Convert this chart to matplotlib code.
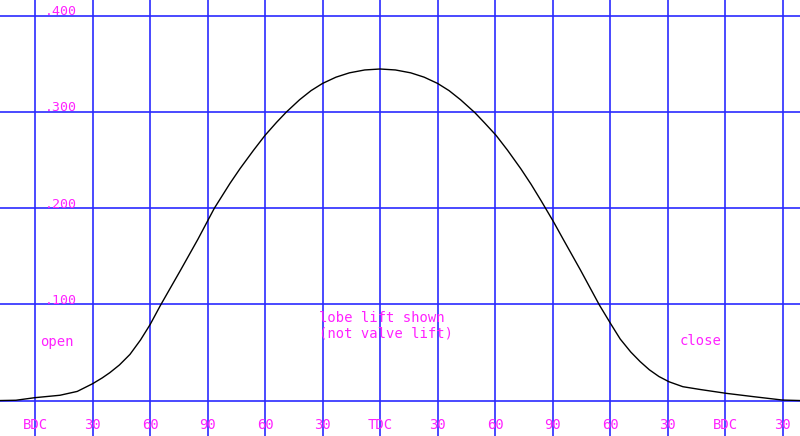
import matplotlib
matplotlib.use("Agg")
import matplotlib.pyplot as plt

# crank angle in degrees relative to TDC, lobe lift
angle = [-198.3, -190, -180, -167, -158, -150, -145, -141, -136, -130.5, -125, -120,
         -114.6, -104, -95, -86.5, -78.3, -73, -66, -60, -54, -49, -42, -36, -30,
         -23, -16, -8, 0,
         8, 16, 23, 30, 36, 42, 49.5, 54.5, 60.5, 66.5, 73.5, 78.8, 84, 90.5, 95.5,
         104.5, 114.4, 120.3, 125.3, 130.8, 135.7, 140.5, 145.5, 150.8, 158, 167,
         180.6, 195, 210, 219.1]
lift = [0, 0.3, 3, 5.5, 9.5, 17.5, 23.5, 29, 37, 48, 63, 79,
        99, 136, 168, 200, 226, 241.5, 260.5, 276, 289.5, 300, 313, 322.5, 330,
        336.5, 341, 344, 345,
        344, 341, 336.5, 330, 322.5, 313, 299.5, 289, 276, 260.5, 241, 225, 208, 186, 168,
        136, 99.5, 80, 64, 50.5, 40.5, 32, 25, 19.5, 14.4, 11.5,
        7.5, 4, 0.5, 0]

grid_x = [-180, -150, -120, -90, -60, -30, 0, 30, 60, 90, 120, 150, 180, 210]
x_labels = ["BDC", "30", "60", "90", "60", "30", "TDC", "30", "60", "90", "60", "30", "BDC", "30"]
grid_y = [0, 100, 200, 300, 400]
y_labels = [".100", ".200", ".300", ".400"]

blue = "#2a2aff"
magenta = "#ff22ff"
font = "DejaVu Sans Mono"

fig = plt.figure(figsize=(8, 4.36), dpi=100)
ax = fig.add_axes([0, 0, 1, 1])
ax.set_xlim(-198.3, 219.1)
ax.set_ylim(-36.9, 416.8)
ax.axis("off")

for gx in grid_x:
    ax.axvline(gx, color=blue, lw=1.2, zorder=1)
for gy in grid_y:
    ax.axhline(gy, color=blue, lw=1.2, zorder=1)

ax.plot(angle, lift, color="black", lw=1.0, zorder=3)

for gx, lab in zip(grid_x, x_labels):
    ax.text(gx, -25.5, lab, color=magenta, fontsize=10, family=font,
            ha="center", va="center")
for gy, lab in zip(grid_y[1:], y_labels):
    ax.text(-174.8, gy + 4.5, lab, color=magenta, fontsize=9.5, family=font,
            ha="left", va="center")

ax.text(-177.4, 61, "open", color=magenta, fontsize=10, family=font, ha="left", va="center")
ax.text(167, 62, "close", color=magenta, fontsize=10, family=font, ha="center", va="center")
ax.text(-31.7, 86, "lobe lift shown", color=magenta, fontsize=10, family=font,
        ha="left", va="center")
ax.text(-31.7, 70, "(not valve lift)", color=magenta, fontsize=10, family=font,
        ha="left", va="center")

fig.savefig("out.png", dpi=100, facecolor="white")
